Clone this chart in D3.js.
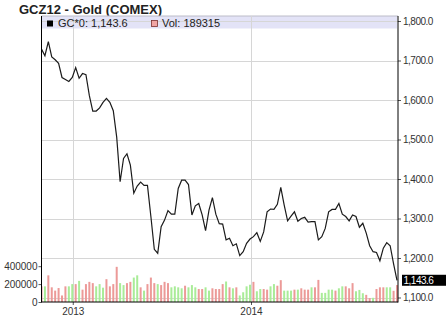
<!DOCTYPE html>
<html>
<head>
<meta charset="utf-8">
<script src="https://cdn.jsdelivr.net/npm/d3@7"></script>
<style>
  body { margin: 0; background: #fff; }
  svg text { font-family: "Liberation Sans", Arial, sans-serif; }
</style>
</head>
<body>
<div id="chart"></div>
<script>
// weekly closes, Oct 2012 - Oct 2014
var firstWeek = new Date(2012, 9, 29);
var closes = [1729,1712,1748,1709,1702,1693,1657,1652,1647,1657,
  1682,1655,1667,1664,1611,1572,1572,1580,1594,1604,
  1594,1573,1506,1393,1452,1464,1435,1364,1382,1392,
  1384,1384,1305,1222,1212,1279,1296,1320,1311,1311,
  1376,1397,1397,1386,1309,1332,1338,1309,1269,1321,
  1353,1311,1287,1286,1246,1250,1231,1236,1206,1216,
  1237,1248,1254,1264,1242,1266,1317,1324,1323,1336,
  1379,1334,1294,1306,1317,1293,1300,1303,1291,1292,
  1292,1246,1254,1275,1317,1323,1323,1338,1311,1305,
  1294,1309,1305,1278,1288,1263,1231,1216,1214,1193,
  1225,1239,1231,1185,1143.6];

// weekly volume (thousands) and bar colour (1 = up / green)
var volumes = [175,175,298,164,127,156,73,175,175,200,
  200,236,138,200,225,211,175,200,160,255,
  175,200,393,211,189,211,225,273,298,164,
  127,200,273,211,200,189,225,211,164,175,
  164,153,182,164,189,164,145,145,164,127,
  153,145,145,200,229,164,153,164,73,109,
  175,193,225,120,145,145,138,175,200,182,
  244,127,127,127,138,138,153,138,138,164,
  164,247,102,102,138,138,127,153,175,175,
  153,211,120,135,98,80,44,47,145,164,
  164,164,164,125,189.315];
var volUp = [0,1,0,0,0,0,0,0,1,1,
  0,1,0,0,0,0,1,1,1,0,
  0,0,0,1,1,0,0,1,1,0,
  1,0,0,0,1,0,0,0,1,1,
  1,1,0,1,1,1,0,0,1,1,
  0,0,0,0,1,0,1,0,1,1,
  1,1,0,1,1,0,0,1,1,0,
  0,1,1,1,0,1,0,0,0,1,
  0,0,1,1,1,1,0,1,1,0,
  0,0,1,1,1,0,0,1,0,0,
  0,1,1,0,0];

var priceTicks = [1100,1200,1300,1400,1500,1600,1700,1800];
var volTicks = [0,200000,400000];
var title = "GCZ12 - Gold (COMEX)";
var symbol = "GC*0";

var width = 447, height = 324;
var plotL = 41.5, plotR = 398, plotT = 16, plotB = 302;

var weeks = closes.map(function(c, i) { return d3.timeDay.offset(firstWeek, 7 * i); });
var lastClose = closes[closes.length - 1];
var lastVol = volumes[volumes.length - 1] * 1000;

var x = d3.scaleTime()
  .domain([weeks[0], weeks[weeks.length - 1]])
  .range([plotL, 397]);
var y = d3.scaleLinear().domain([1100, 1800]).range([297.5, 21]);
var v = d3.scaleLinear().domain([0, 400000]).range([plotB, 266.2]);

var svg = d3.select("#chart").append("svg")
  .attr("width", width)
  .attr("height", height);

svg.append("defs").append("clipPath").attr("id", "plot")
  .append("rect")
  .attr("x", plotL).attr("y", plotT)
  .attr("width", plotR - plotL).attr("height", plotB - plotT);

// title
svg.append("text")
  .attr("x", 19).attr("y", 14)
  .style("font-size", "13px").style("font-weight", "bold")
  .style("fill", "#222")
  .text(title);

// legend band
svg.append("rect")
  .attr("x", plotL).attr("y", plotT)
  .attr("width", plotR - plotL - 1).attr("height", 12.5)
  .style("fill", "#e3e3f7");
svg.append("line")
  .attr("x1", plotL).attr("x2", plotR).attr("y1", plotT).attr("y2", plotT)
  .style("stroke", "#bcbcc8");

// grid
var grid = svg.append("g");
grid.selectAll("line.h").data(priceTicks).enter().append("line")
  .attr("x1", plotL).attr("x2", plotR)
  .attr("y1", function(d) { return Math.round(y(d)) + 0.5; })
  .attr("y2", function(d) { return Math.round(y(d)) + 0.5; })
  .style("stroke", "#d6d6d6");
grid.selectAll("line.v").data(x.ticks(d3.timeYear)).enter().append("line")
  .attr("x1", function(d) { return Math.round(x(d)) + 0.5; })
  .attr("x2", function(d) { return Math.round(x(d)) + 0.5; })
  .attr("y1", plotT).attr("y2", plotB)
  .style("stroke", "#d6d6d6");

// volume bars
svg.append("g").attr("clip-path", "url(#plot)")
  .selectAll("rect").data(volumes).enter().append("rect")
  .attr("x", function(d, i) { return x(weeks[i]) - 1; })
  .attr("width", 2)
  .attr("y", function(d) { return v(d * 1000); })
  .attr("height", function(d) { return plotB - v(d * 1000); })
  .style("fill", function(d, i) { return volUp[i] ? "#a9ec98" : "#ec9a98"; });

// price line
var line = d3.line()
  .x(function(d, i) { return x(weeks[i]); })
  .y(function(d) { return y(d); });
svg.append("path")
  .datum(closes)
  .attr("clip-path", "url(#plot)")
  .attr("d", line)
  .style("fill", "none")
  .style("stroke", "#1b1b1b")
  .style("stroke-width", 1.2);

// legend
svg.append("rect").attr("x", 47).attr("y", 20.5).attr("width", 6).attr("height", 6)
  .style("fill", "#000");
svg.append("text").attr("x", 58).attr("y", 26.5)
  .style("font-size", "11px").style("fill", "#222")
  .text(symbol + ": " + d3.format(",.1f")(lastClose));
svg.append("rect").attr("x", 151.5).attr("y", 20.5).attr("width", 6).attr("height", 6)
  .style("fill", "#f0a4a4").style("stroke", "#7a3030").style("stroke-width", 0.8);
svg.append("text").attr("x", 162).attr("y", 26.5)
  .style("font-size", "11px").style("fill", "#222")
  .text("Vol: " + Math.round(lastVol));

// axes
var priceAxis = svg.append("g")
  .attr("transform", "translate(" + plotR + ",0)")
  .call(d3.axisRight(y).tickValues(priceTicks).tickFormat(d3.format(",.1f")).tickSize(3).tickPadding(2));
var volAxis = svg.append("g")
  .attr("transform", "translate(" + plotL + ",0)")
  .call(d3.axisLeft(v).tickValues(volTicks).tickFormat(d3.format("d")).tickSize(3).tickPadding(1));
var timeAxis = svg.append("g")
  .attr("transform", "translate(0," + plotB + ")")
  .call(d3.axisBottom(x).ticks(d3.timeYear).tickFormat(d3.timeFormat("%Y")).tickSize(3).tickPadding(3));

[priceAxis, volAxis, timeAxis].forEach(function(g) {
  g.select(".domain").remove();
  g.selectAll("line").style("stroke", "#555");
  g.selectAll("text").style("font-family", "Liberation Sans, Arial, sans-serif")
    .style("font-size", "10px").style("fill", "#333");
});
priceAxis.selectAll("text").style("letter-spacing", "-0.5px");

// frame lines
svg.append("line").attr("x1", plotL).attr("x2", plotL).attr("y1", plotT).attr("y2", plotB + 0.5)
  .style("stroke", "#000");
svg.append("line").attr("x1", plotR).attr("x2", plotR).attr("y1", plotT).attr("y2", plotB + 0.5)
  .style("stroke", "#000");
svg.append("line").attr("x1", plotL).attr("x2", plotR).attr("y1", plotB).attr("y2", plotB)
  .style("stroke", "#000");

// last price marker
var marker = svg.append("g").attr("transform", "translate(402," + y(lastClose) + ")");
marker.append("rect").attr("x", 0).attr("y", -5.5).attr("width", 44).attr("height", 11)
  .style("fill", "#000");
marker.append("text").attr("x", 1.5).attr("y", 3.8)
  .style("font-size", "10px").style("letter-spacing", "-0.5px").style("fill", "#fff")
  .text(d3.format(",.1f")(lastClose));
</script>
</body>
</html>
